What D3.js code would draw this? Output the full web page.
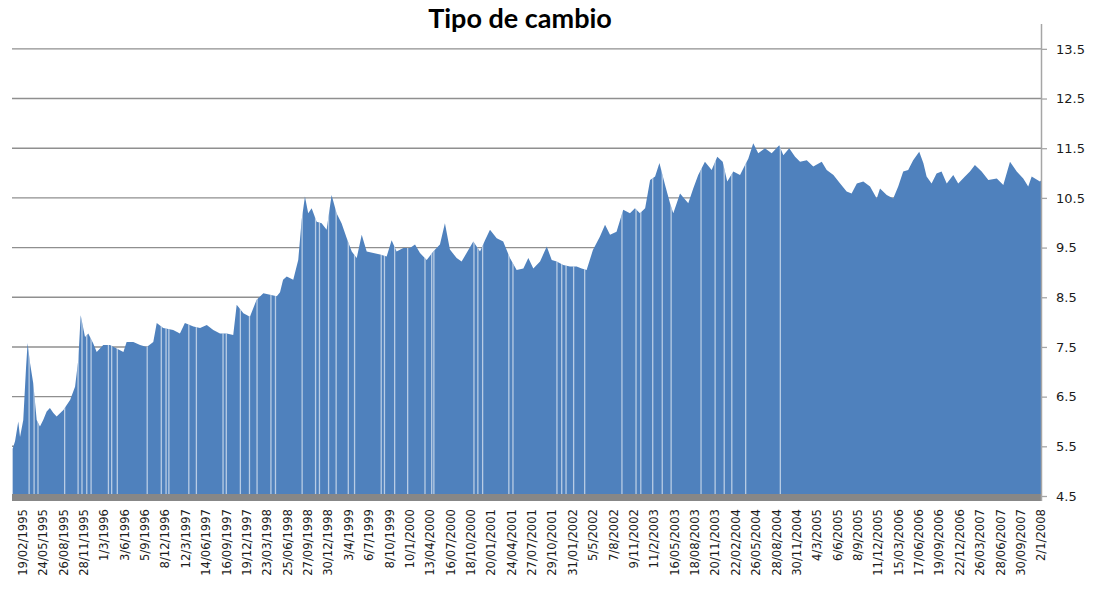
<!DOCTYPE html>
<html>
<head>
<meta charset="utf-8">
<script src="https://cdn.jsdelivr.net/npm/d3@7"></script>
<style>
  body { margin: 0; background: #fff; }
  svg { display: block; }
</style>
</head>
<body>
<div id="chart"></div>
<script>
// datos

var fechas = [
  "1995-01-04","1995-01-15","1995-01-30","1995-02-07","1995-02-22","1995-03-07","1995-03-14","1995-03-25",
  "1995-04-09","1995-04-25","1995-05-10","1995-05-25","1995-06-10","1995-06-25","1995-07-11","1995-07-26",
  "1995-08-26","1995-09-26","1995-10-19","1995-11-03","1995-11-14","1995-12-04","1995-12-19",
  "1996-01-11","1996-01-27","1996-02-26","1996-03-28","1996-04-28","1996-05-29","1996-06-13","1996-07-14",
  "1996-08-14","1996-09-14","1996-10-14","1996-10-30","1996-11-29",
  "1997-01-14","1997-02-14","1997-03-09","1997-04-17","1997-05-18","1997-06-18","1997-07-18","1997-08-18",
  "1997-09-18","1997-10-18","1997-11-03","1997-12-04",
  "1998-01-03","1998-02-03","1998-03-06","1998-04-06","1998-05-07","1998-05-22","1998-06-05","1998-06-22",
  "1998-07-22","1998-08-14","1998-08-30","1998-09-14","1998-09-29","1998-10-15","1998-11-07","1998-11-30","1998-12-23",
  "1999-01-15","1999-02-07","1999-03-02","1999-03-26","1999-04-18","1999-05-11","1999-06-03","1999-06-26",
  "1999-07-27","1999-08-27","1999-09-26","1999-10-19","1999-11-11","1999-12-12",
  "2000-01-12","2000-02-04","2000-02-27","2000-03-29","2000-04-28","2000-05-29","2000-06-21","2000-07-14",
  "2000-08-14","2000-09-06","2000-09-29","2000-10-30","2000-11-30","2000-12-23",
  "2001-01-15","2001-02-15","2001-03-17","2001-04-17","2001-05-18","2001-06-18","2001-07-11","2001-08-03",
  "2001-09-03","2001-10-04","2001-10-27","2001-11-19","2001-12-19",
  "2002-01-19","2002-02-19","2002-03-14","2002-04-06","2002-05-05","2002-06-06","2002-06-30","2002-07-23",
  "2002-08-22","2002-09-22","2002-10-23","2002-11-15","2002-12-08",
  "2003-01-01","2003-01-24","2003-02-16","2003-03-08","2003-04-03","2003-04-26","2003-05-11","2003-06-11",
  "2003-07-19","2003-08-11","2003-09-03","2003-10-04","2003-11-04","2003-11-30","2003-12-25",
  "2004-01-15","2004-02-12","2004-03-14","2004-04-06","2004-04-21","2004-05-14","2004-06-06","2004-07-07",
  "2004-08-07","2004-09-11","2004-09-30","2004-10-27","2004-11-23","2004-12-16",
  "2005-01-16","2005-02-15","2005-03-26","2005-04-18","2005-05-19","2005-06-19","2005-07-19","2005-08-11",
  "2005-09-04","2005-10-04","2005-11-04","2005-12-05","2005-12-20",
  "2006-01-20","2006-02-19","2006-03-14","2006-04-06","2006-04-29","2006-05-22","2006-06-19","2006-07-08",
  "2006-07-23","2006-08-15","2006-09-07","2006-09-30","2006-10-24","2006-11-23","2006-12-16",
  "2007-01-16","2007-02-08","2007-03-03","2007-04-03","2007-05-04","2007-06-12","2007-07-12","2007-08-12",
  "2007-09-12","2007-10-12","2007-11-04","2007-11-20","2007-12-28","2008-01-02"
];

var tipo = [
  5.45,5.6,6.0,5.69,6.03,7.1,7.58,7.18,
  6.77,6.03,5.9,6.03,6.2,6.27,6.17,6.1,
  6.23,6.43,6.7,7.24,8.14,7.7,7.77,
  7.57,7.4,7.54,7.54,7.47,7.4,7.6,7.6,
  7.54,7.5,7.6,7.98,7.88,
  7.84,7.77,7.98,7.91,7.88,7.94,7.84,7.77,
  7.77,7.74,8.35,8.18,
  8.11,8.45,8.58,8.55,8.52,8.6,8.85,8.92,
  8.85,9.25,10.06,10.53,10.19,10.29,10.02,9.99,9.86,
  10.56,10.19,9.99,9.69,9.42,9.29,9.76,9.42,
  9.39,9.36,9.32,9.65,9.42,9.49,
  9.49,9.56,9.39,9.25,9.42,9.56,9.99,9.46,
  9.29,9.22,9.39,9.62,9.42,9.65,
  9.86,9.69,9.62,9.29,9.05,9.08,9.29,9.08,
  9.22,9.52,9.25,9.22,9.15,
  9.12,9.12,9.08,9.05,9.45,9.72,9.96,9.76,
  9.82,10.26,10.19,10.29,10.19,
  10.29,10.86,10.93,11.2,10.76,10.39,10.19,10.59,
  10.39,10.69,10.96,11.23,11.06,11.33,11.23,
  10.83,11.03,10.96,11.16,11.29,11.6,11.4,11.5,
  11.4,11.56,11.36,11.5,11.33,11.23,
  11.26,11.13,11.23,11.06,10.96,10.79,10.63,10.59,
  10.79,10.83,10.73,10.49,10.69,
  10.56,10.49,10.73,11.03,11.06,11.26,11.43,11.2,
  10.93,10.79,10.99,11.03,10.79,10.96,10.79,
  10.93,11.03,11.16,11.03,10.86,10.89,10.76,11.23,
  11.03,10.89,10.73,10.93,10.83,10.85
];

// dias sin dato (huecos blancos)
var feriados = [
  "1995-03-21","1995-04-13","1995-05-01","1995-09-01","1995-11-02","1995-11-20","1995-12-12","1996-01-01",
  "1996-03-21","1996-04-05","1996-05-01","1996-09-16","1996-11-20","1996-12-12","1996-12-25",
  "1997-03-27","1997-05-01","1997-09-01","1997-09-16","1997-11-20",
  "1998-01-01","1998-02-05","1998-04-10","1998-05-01","1998-09-01","1998-11-02","1998-11-20",
  "1999-01-01","1999-02-05","1999-04-02","1999-05-01","1999-09-01","1999-09-16","1999-11-02",
  "2000-01-01","2000-03-21","2000-04-21","2000-05-01","2000-11-02","2000-11-20","2000-12-12",
  "2001-04-12","2001-05-01","2001-11-20","2001-12-12",
  "2002-01-01","2002-02-05","2002-03-28","2002-09-16","2002-11-20","2002-12-12",
  "2003-02-05","2003-03-21","2003-05-01","2003-09-16","2003-11-20",
  "2004-01-01","2004-02-05","2004-04-09","2004-09-16"
];

var etiquetasX = [
  "19/02/1995","24/05/1995","26/08/1995","28/11/1995","1/3/1996","3/6/1996","5/9/1996","8/12/1996",
  "12/3/1997","14/06/1997","16/09/1997","19/12/1997","23/03/1998","25/06/1998","27/09/1998","30/12/1998",
  "3/4/1999","6/7/1999","8/10/1999","10/1/2000","13/04/2000","16/07/2000","18/10/2000","20/01/2001",
  "24/04/2001","27/07/2001","29/10/2001","31/01/2002","5/5/2002","7/8/2002","9/11/2002","11/2/2003",
  "16/05/2003","18/08/2003","20/11/2003","22/02/2004","26/05/2004","28/08/2004","30/11/2004","4/3/2005",
  "6/6/2005","8/9/2005","11/12/2005","15/03/2006","17/06/2006","19/09/2006","22/12/2006","26/03/2007",
  "28/06/2007","30/09/2007","2/1/2008"
];

var ticksY = [4.5, 5.5, 6.5, 7.5, 8.5, 9.5, 10.5, 11.5, 12.5, 13.5];

var inicio = "1995-01-01", fin = "2008-01-02";
var yMin = 4.5, yMax = 14;

//constantes

var width = 1098,
	height = 592,
	margin = {top: 24, right: 57, bottom: 96, left: 12};

var parseIso = d3.utcParse("%Y-%m-%d"),
	parseDmy = d3.utcParse("%d/%m/%Y");

var svg = d3.select('#chart')
	.append('svg')
	.attr('width', width)
	.attr('height', height);

var x = d3.scaleUtc()
	.domain([parseIso(inicio), parseIso(fin)])
	.range([margin.left, width - margin.right]);

var y = d3.scaleLinear()
	.domain([yMin, yMax])
	.range([height - margin.bottom, margin.top]);

var data = fechas.map(function(f, i){ return {date: parseIso(f), v: tipo[i]}; });

// lineas de division
svg.append('g')
	.attr('class', 'grid')
	.selectAll('line')
	.data(ticksY.slice(1))
	.enter()
	.append('line')
	.attr('x1', margin.left)
	.attr('x2', width - margin.right)
	.attr('y1', function(d){ return y(d); })
	.attr('y2', function(d){ return y(d); })
	.attr('stroke', '#8f8f8f')
	.attr('stroke-width', 1.4);

// area
var area = d3.area()
	.x(function(d){ return x(d.date); })
	.y0(y(yMin))
	.y1(function(d){ return y(d.v); });

svg.append('clipPath')
	.attr('id', 'clipArea')
	.append('path')
	.datum(data)
	.attr('d', area);

svg.append('path')
	.datum(data)
	.attr('fill', '#4f81bd')
	.attr('d', area);

// huecos
svg.append('g')
	.attr('clip-path', 'url(#clipArea)')
	.selectAll('line')
	.data(feriados)
	.enter()
	.append('line')
	.attr('x1', function(d){ return x(parseIso(d)); })
	.attr('x2', function(d){ return x(parseIso(d)); })
	.attr('y1', y(yMin))
	.attr('y2', margin.top)
	.attr('stroke', '#ffffff')
	.attr('stroke-opacity', 0.6)
	.attr('stroke-width', 1.3);

// eje x (banda gris)
svg.append('line')
	.attr('x1', margin.left)
	.attr('x2', width - margin.right)
	.attr('y1', y(yMin) + 1.5)
	.attr('y2', y(yMin) + 1.5)
	.attr('stroke', '#878787')
	.attr('stroke-width', 7);

// eje y a la derecha
var yAxis = d3.axisRight(y)
	.tickValues(ticksY)
	.tickSize(6)
	.tickPadding(9)
	.tickFormat(d3.format('.1f'));

var gy = svg.append('g')
	.attr('transform', 'translate(' + (width - margin.right) + ',0)')
	.call(yAxis);

gy.select('.domain')
	.attr('stroke', '#a6a6a6')
	.attr('stroke-width', 1.5)
	.attr('d', 'M0.5,' + margin.top + 'V' + (y(yMin) + 5));
gy.selectAll('.tick line').attr('stroke', '#a6a6a6').attr('stroke-width', 1.3);
gy.selectAll('.tick text')
	.attr('fill', '#1a1a1a')
	.style('font-family', 'DejaVu Sans, Verdana, sans-serif')
	.style('font-size', '13px');

// etiquetas de fecha giradas
svg.append('g')
	.selectAll('text')
	.data(etiquetasX)
	.enter()
	.append('text')
	.attr('transform', function(d){
		return 'translate(' + (x(parseDmy(d)) + 4.3) + ',' + (y(yMin) + 13) + ') rotate(-90)';
	})
	.attr('text-anchor', 'end')
	.attr('fill', '#1a1a1a')
	.style('font-family', 'DejaVu Sans, Verdana, sans-serif')
	.style('font-size', '11.6px')
	.text(function(d){ return d; });

// titulo
svg.append('text')
	.attr('x', 520)
	.attr('y', 28)
	.attr('text-anchor', 'middle')
	.style('font-family', 'Lato, "Open Sans", sans-serif')
	.style('font-weight', 'bold')
	.style('font-size', '27px')
	.attr('fill', '#000')
	.text('Tipo de cambio');
</script>
</body>
</html>
